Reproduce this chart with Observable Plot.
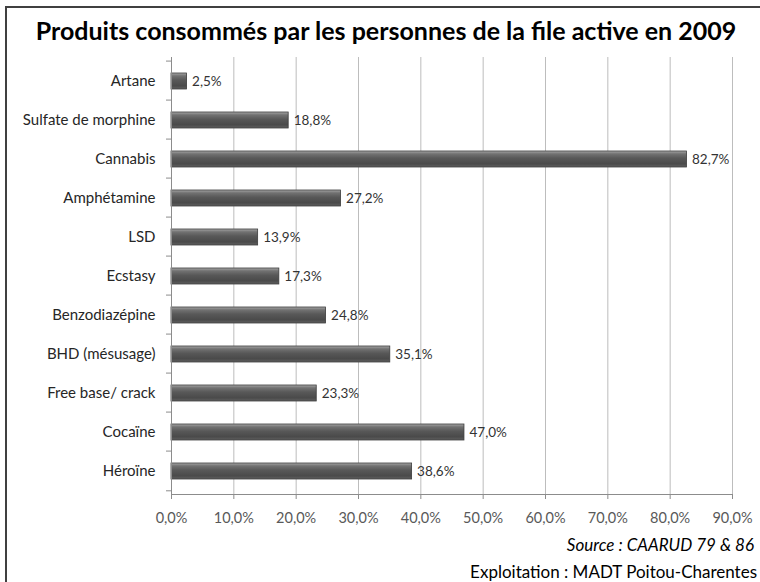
<!DOCTYPE html>
<html>
<head>
<meta charset="utf-8">
<script src="https://cdn.jsdelivr.net/npm/d3@7"></script>
<script src="https://cdn.jsdelivr.net/npm/@observablehq/plot@0.6"></script>
<style>
  html, body { margin: 0; padding: 0; background: #fff; overflow: hidden; }
  #page { position: relative; width: 760px; height: 582px; overflow: hidden; font-family: Lato, "Open Sans", sans-serif; }
  #border { position: absolute; left: 5px; top: 6px; width: 800px; height: 700px; border: 2px solid #404040; box-sizing: border-box; }
  #title { position: absolute; left: 0; top: 13px; width: 772px; text-align: center; font-weight: bold; font-size: 25px; color: #000; line-height: 34px; }
  #chart { position: absolute; left: 0; top: 50px; }
  .cap { position: absolute; right: 6px; font-size: 17px; color: #000; line-height: 22px; white-space: nowrap; }
  #source { top: 534px; font-style: italic; }
  #exploit { top: 561px; right: 3px; }
</style>
</head>
<body>
<div id="page">
  <div id="border"></div>
  <div id="title">Produits consommés par les personnes de la file active en 2009</div>
  <div id="chart"></div>
  <div class="cap" id="source">Source : CAARUD 79 &amp; 86</div>
  <div class="cap" id="exploit">Exploitation : MADT Poitou-Charentes</div>
</div>
<script>
const categories = ["Artane", "Sulfate de morphine", "Cannabis", "Amphétamine", "LSD", "Ecstasy", "Benzodiazépine", "BHD (mésusage)", "Free base/ crack", "Cocaïne", "Héroïne"];
const values = [2.5, 18.8, 82.7, 27.2, 13.9, 17.3, 24.8, 35.1, 23.3, 47.0, 38.6];
const xTicks = [0, 10, 20, 30, 40, 50, 60, 70, 80, 90];

const data = categories.map((c, i) => ({cat: c, v: values[i]}));
const fmt = d => d.toFixed(1).replace(".", ",") + "%";

const W = 760, H = 495, mT = 7, mB = 51, mL = 171, mR = 28;
const padInner = 0.6, padOuter = 0.3;

// boundary ticks on the category axis (derived from the band scale)
function boundaryTicks(index, scales, values, dims) {
  const ns = "http://www.w3.org/2000/svg";
  const g = document.createElementNS(ns, "g");
  const n = categories.length;
  const step = (dims.height - dims.marginTop - dims.marginBottom) / n;
  const x0 = scales.x(0);
  const ys = categories.map(c => scales.y(c) - step * padInner / 2);
  ys.push(ys[ys.length - 1] + step);
  for (const y of ys) {
    const l = document.createElementNS(ns, "line");
    l.setAttribute("x1", x0 - 5); l.setAttribute("x2", x0);
    l.setAttribute("y1", y); l.setAttribute("y2", y);
    l.setAttribute("stroke", "#8c8c8c");
    g.appendChild(l);
  }
  return g;
}

const plot = Plot.plot({
  width: W, height: H,
  marginTop: mT, marginBottom: mB, marginLeft: mL, marginRight: mR,
  style: {fontFamily: "Lato, 'Open Sans', sans-serif", background: "transparent", overflow: "visible"},
  x: {domain: [0, 90], label: null},
  y: {domain: categories, paddingInner: padInner, paddingOuter: padOuter, label: null},
  marks: [
    Plot.gridX(xTicks, {stroke: "#bdbdbd", strokeOpacity: 1}),
    Plot.axisX(xTicks, {tickSize: 5, tickPadding: 13, tickFormat: fmt, fontSize: 14.5, color: "#595959", stroke: "#8c8c8c", label: null}),
    Plot.axisY({tickSize: 0, tickPadding: 16, fontSize: 15, color: "#262626", label: null}),
    Plot.barX(data, {y: "cat", x: "v", fill: "url(#barGrad)", stroke: "#3c3c3c", strokeWidth: 0.8}),
    Plot.text(data, {y: "cat", x: "v", text: d => fmt(d.v), textAnchor: "start", dx: 5, fontSize: 13.5, fill: "#333"}),
    Plot.ruleX([0], {stroke: "#8c8c8c"}),
    Plot.frame({anchor: "bottom", stroke: "#8c8c8c"}),
    boundaryTicks
  ]
});

// gradient for the cylindrical bar look
const ns = "http://www.w3.org/2000/svg";
const defs = document.createElementNS(ns, "defs");
const grad = document.createElementNS(ns, "linearGradient");
grad.setAttribute("id", "barGrad");
grad.setAttribute("x1", "0"); grad.setAttribute("y1", "0");
grad.setAttribute("x2", "0"); grad.setAttribute("y2", "1");
[["0%", "#a8a8a8"], ["18%", "#727272"], ["45%", "#585858"], ["80%", "#4a4a4a"], ["100%", "#606060"]].forEach(([o, c]) => {
  const s = document.createElementNS(ns, "stop");
  s.setAttribute("offset", o); s.setAttribute("stop-color", c);
  grad.appendChild(s);
});
defs.appendChild(grad);
plot.insertBefore(defs, plot.firstChild);

document.getElementById("chart").appendChild(plot);
</script>
</body>
</html>
